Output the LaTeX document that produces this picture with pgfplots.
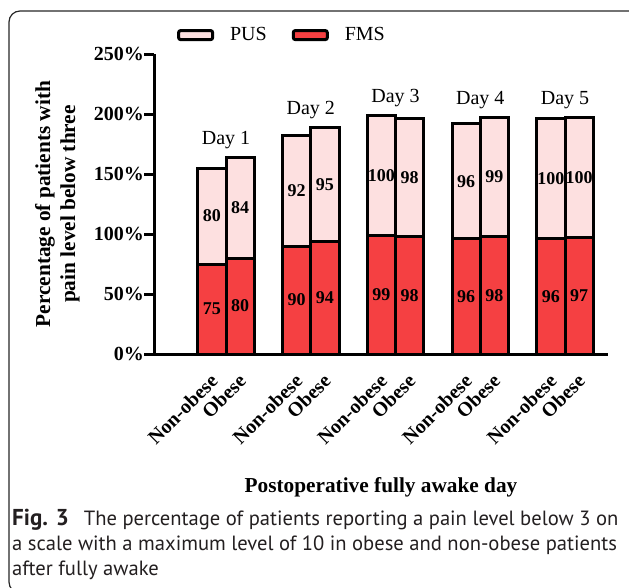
\documentclass[border=0pt]{standalone}
\usepackage{fontspec}
\setmainfont{Liberation Serif}
\newfontfamily\capfont{PT Sans}
\usepackage{pgfplots}
\pgfplotsset{compat=1.18}
\definecolor{pus}{RGB}{253,224,224}
\definecolor{fms}{RGB}{245,64,66}
\definecolor{captxt}{RGB}{35,31,32}
\begin{document}
\begin{tikzpicture}
\useasboundingbox (0pt,0pt) rectangle (629pt,-588pt);
\clip (0pt,0pt) rectangle (629pt,-588pt);
\draw[line width=1.2pt, black!85, rounded corners=11pt] (9pt,-11pt) rectangle (700pt,-593pt);
\begin{axis}[
  at={(154pt,-354pt)}, anchor=south west,
  scale only axis, width=454pt, height=300pt,
  xmin=-2.05, xmax=14.02, ymin=0, ymax=250,
  ybar stacked, bar width=1,
  axis x line*=bottom, axis y line*=left,
  axis line style={-, line width=3pt, black},
  clip=false,
  /pgf/number format/assume math mode=true,
  ytick={0,50,100,150,200,250},
  yticklabel={\pgfmathprintnumber{\tick}\%},
  tick align=outside, major tick length=10pt,
  ytick style={line width=3pt, black},
  yticklabel style={font=\bfseries\fontsize{20}{20}\selectfont, anchor=east, inner sep=0pt},
  xtick={0,1,3,4,6,7,9,10,12,13},
  xticklabels={Non-obese,Obese,Non-obese,Obese,Non-obese,Obese,Non-obese,Obese,Non-obese,Obese},
  xtick style={draw=none},
  xticklabel style={rotate=45, anchor=north east, font=\bfseries\fontsize{20}{20}\selectfont, inner sep=0pt, xshift=-8pt, yshift=-4pt},
  xlabel={Postoperative fully awake day},
  every axis x label/.style={at={(axis description cs:0.5,0)}, anchor=base, yshift=-138pt, font=\bfseries\fontsize{21.3}{24}\selectfont},
  ylabel={Percentage of patients with\\pain level below three},
  every axis y label/.style={at={(axis description cs:-0.2126,0.5)}, rotate=90, anchor=center, align=center, font=\bfseries\fontsize{21.3}{25}\selectfont},
  visualization depends on=rawy \as \rawy,
  nodes near coords={\pgfmathprintnumber{\rawy}},
  every node near coord/.append style={anchor=center, font=\bfseries\fontsize{18}{18}\selectfont, inner sep=0pt},
  legend columns=2, reverse legend,
  legend image code/.code={\draw[#1, line width=3pt, rounded corners=2pt] (0pt,-4.5pt) rectangle (34pt,4.5pt);},
  legend style={at={(axis description cs:0.2797,1.063)}, anchor=center, draw=none, fill=none,
    font=\fontsize{20}{20}\selectfont, nodes={inner sep=0pt},
    /tikz/every odd column/.append style={column sep=16pt},
    /tikz/every even column/.append style={column sep=25pt}},
]
\addplot[fill=fms, draw=black, line width=3pt] coordinates {(0,75) (1,80) (3,90) (4,94) (6,99) (7,98) (9,96) (10,98) (12,96) (13,97)};
\addlegendentry{FMS}
\addplot[fill=pus, draw=black, line width=3pt] coordinates {(0,80) (1,84) (3,92) (4,95) (6,100) (7,98) (9,96) (10,99) (12,100) (13,100)};
\addlegendentry{PUS}
\node[anchor=base, yshift=13pt, font=\fontsize{20}{20}\selectfont] at (axis cs:0.5,164) {Day 1};
\node[anchor=base, yshift=13pt, font=\fontsize{20}{20}\selectfont] at (axis cs:3.5,189) {Day 2};
\node[anchor=base, yshift=13pt, font=\fontsize{20}{20}\selectfont] at (axis cs:6.5,199) {Day 3};
\node[anchor=base, yshift=13pt, font=\fontsize{20}{20}\selectfont] at (axis cs:9.5,197) {Day 4};
\node[anchor=base, yshift=13pt, font=\fontsize{20}{20}\selectfont] at (axis cs:12.5,197) {Day 5};
\end{axis}
\begin{scope}[every node/.style={anchor=base west, inner sep=0pt, text=captxt, font=\capfont\fontsize{20.6}{25}\selectfont}]
\node at (12pt,-525pt) {{\fontsize{23}{25}\selectfont\bfseries Fig. 3}\hspace{15pt}The percentage of patients reporting a pain level below 3 on};
\node at (12pt,-550pt) {a scale with a maximum level of 10 in obese and non-obese patients};
\node at (12pt,-575pt) {after fully awake};
\end{scope}
\end{tikzpicture}
\end{document}
